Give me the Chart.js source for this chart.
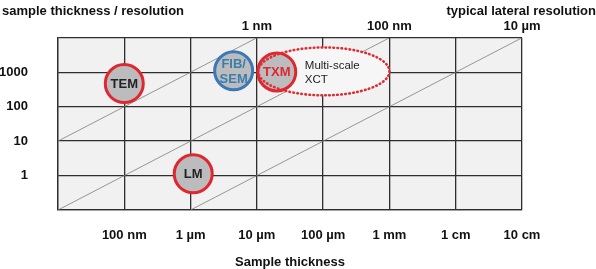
<!DOCTYPE html>
<html>
<head>
<meta charset="utf-8">
<script src="https://cdn.jsdelivr.net/npm/chart.js@4.4.0/dist/chart.umd.min.js"></script>
<style>
  html, body { margin: 0; padding: 0; background: #fff; }
  canvas { display: block; }
</style>
</head>
<body>
<canvas id="thicknessChart" width="596" height="269"></canvas>
<script>
// Sample thickness vs thickness/resolution ratio, both axes in log10 units
const thicknessExp = [-8, -7, -6, -5, -4, -3, -2, -1]; // log10 of metres
const thicknessLabels = ['', '100 nm', '1 µm', '10 µm', '100 µm', '1 mm', '1 cm', '10 cm'];
const ratioExp = [-1, 0, 1, 2, 3, 4];
const ratioLabels = ['', '1', '10', '100', '1000', ''];
const resolutionExp = [-5, -3, -1]; // where each constant-resolution line leaves the top
const resolutionLabels = ['1 nm', '100 nm', '10 µm'];

// constant-resolution diagonals (thickness exp, ratio exp)
const line1nm = [{ x: -8, y: 1 }, { x: -5, y: 4 }];
const line100nm = [{ x: -8, y: -1 }, { x: -3, y: 4 }];
const line10um = [{ x: -6, y: -1 }, { x: -1, y: 4 }];

const techniques = ['TEM', 'FIB/SEM', 'TXM', 'LM'];
const techThickness = [-7.0, -5.35, -4.7, -5.96];
const techRatio = [2.67, 3.04, 3.01, 0.05];
const techBorder = ['#e0262f', '#3b78b5', '#e0262f', '#e0262f'];
const techText = ['#222222', '#3a7fab', '#e0262f', '#222222'];

// Multi-scale XCT region
const xctThickness = [-4.98, -3.0];
const xctRatio = [2.33, 3.72];
const xctLabel = ['Multi-scale', 'XCT'];

const FONT = '"Liberation Sans", Arial, sans-serif';
const GRID = '#2e2e2e';

const plotBg = {
  id: 'plotBg',
  beforeDraw(chart) {
    const { ctx, chartArea: a } = chart;
    ctx.save();
    ctx.fillStyle = '#f1f1f1';
    ctx.fillRect(a.left, a.top, a.right - a.left, a.bottom - a.top);
    ctx.restore();
  }
};

function xctEllipse(chart) {
  const sx = chart.scales.x, sy = chart.scales.y;
  const x0 = sx.getPixelForValue(xctThickness[0]), x1 = sx.getPixelForValue(xctThickness[1]);
  const y0 = sy.getPixelForValue(xctRatio[0]), y1 = sy.getPixelForValue(xctRatio[1]);
  return { cx: (x0 + x1) / 2, cy: (y0 + y1) / 2, rx: Math.abs(x1 - x0) / 2, ry: Math.abs(y1 - y0) / 2 };
}

const xctRegion = {
  id: 'xctRegion',
  beforeDatasetDraw(chart, args) {
    if (args.meta.type !== 'bubble') return;
    const e = xctEllipse(chart);
    const ctx = chart.ctx;
    ctx.save();
    ctx.fillStyle = '#f6f6f6';
    ctx.beginPath();
    ctx.ellipse(e.cx, e.cy, e.rx, e.ry, 0, 0, Math.PI * 2);
    ctx.fill();
    ctx.restore();
  },
  afterDatasetsDraw(chart) {
    const e = xctEllipse(chart);
    const ctx = chart.ctx;
    ctx.save();
    ctx.strokeStyle = '#dc2e34';
    ctx.lineWidth = 2.6;
    ctx.lineCap = 'round';
    ctx.setLineDash([0.6, 3.4]);
    ctx.beginPath();
    ctx.ellipse(e.cx, e.cy, e.rx, e.ry, 0, 0, Math.PI * 2);
    ctx.stroke();
    ctx.setLineDash([]);
    ctx.fillStyle = '#222';
    ctx.font = '11.5px ' + FONT;
    ctx.textAlign = 'left';
    ctx.textBaseline = 'middle';
    ctx.fillText(xctLabel[0], e.cx - 19, e.cy - 6);
    ctx.fillText(xctLabel[1], e.cx - 19, e.cy + 8);
    ctx.restore();
  }
};

const bubbleLabels = {
  id: 'bubbleLabels',
  afterDatasetsDraw(chart) {
    const ctx = chart.ctx;
    const meta = chart.getDatasetMeta(0);
    ctx.save();
    ctx.font = 'bold 13px ' + FONT;
    ctx.textAlign = 'center';
    ctx.textBaseline = 'middle';
    meta.data.forEach((el, i) => {
      const lines = techniques[i].split(/(?<=\/)/);
      ctx.fillStyle = techText[i];
      lines.forEach((t, k) => {
        ctx.fillText(t, el.x, el.y + 1 + (k - (lines.length - 1) / 2) * 15);
      });
    });
    ctx.restore();
  }
};

const cornerTitles = {
  id: 'cornerTitles',
  afterDraw(chart) {
    const ctx = chart.ctx;
    ctx.save();
    ctx.font = 'bold 13px ' + FONT;
    ctx.fillStyle = '#111';
    ctx.textBaseline = 'middle';
    ctx.textAlign = 'left';
    ctx.fillText('sample thickness / resolution', 2, 11);
    ctx.textAlign = 'right';
    ctx.fillText('typical lateral resolution', chart.width, 11);
    ctx.restore();
  }
};

const tickFont = { family: FONT, size: 13, weight: 'bold' };
const diag = (data) => ({
  type: 'line', data, xAxisID: 'x', yAxisID: 'y',
  borderColor: '#7d7d7d', borderWidth: 0.8, pointRadius: 0, fill: false
});

new Chart(document.getElementById('thicknessChart'), {
  data: {
    datasets: [
      {
        type: 'bubble', xAxisID: 'x', yAxisID: 'y',
        data: techniques.map((t, i) => ({ x: techThickness[i], y: techRatio[i], r: 19 })),
        backgroundColor: '#bcbcbf',
        borderColor: techBorder,
        borderWidth: 3
      },
      diag(line1nm),
      diag(line100nm),
      diag(line10um)
    ]
  },
  options: {
    responsive: false,
    animation: false,
    events: [],
    layout: { padding: { top: 0, right: 74, bottom: 0, left: 0 } },
    plugins: { legend: { display: false }, tooltip: { enabled: false } },
    scales: {
      x: {
        type: 'linear', position: 'bottom', min: -8, max: -1,
        afterBuildTicks: s => { s.ticks = thicknessExp.map(v => ({ value: v })); },
        afterFit: s => { s.height = 59; },
        ticks: {
          callback: v => thicknessLabels[thicknessExp.indexOf(v)],
          font: tickFont, color: '#111', padding: 18, maxRotation: 0, autoSkip: false
        },
        grid: { color: GRID, lineWidth: 1.3, drawTicks: false },
        border: { color: GRID, width: 1.3 },
        title: { display: true, text: 'Sample thickness', font: tickFont, color: '#111', padding: { top: 0, bottom: -1 } }
      },
      x2: {
        type: 'linear', position: 'top', min: -8, max: -1,
        afterBuildTicks: s => { s.ticks = resolutionExp.map(v => ({ value: v })); },
        afterFit: s => { s.height = 33; },
        ticks: {
          callback: v => resolutionLabels[resolutionExp.indexOf(v)],
          font: tickFont, color: '#111', padding: 4, maxRotation: 0, autoSkip: false
        },
        grid: { display: false, drawTicks: false },
        border: { display: false }
      },
      y: {
        type: 'linear', position: 'left', min: -1, max: 4,
        afterBuildTicks: s => { s.ticks = ratioExp.map(v => ({ value: v })); },
        afterFit: s => { s.width = 58; },
        ticks: {
          callback: v => ratioLabels[ratioExp.indexOf(v)],
          font: tickFont, color: '#111', padding: 30
        },
        grid: { color: GRID, lineWidth: 1.3, drawTicks: false },
        border: { color: GRID, width: 1.3 }
      }
    }
  },
  plugins: [plotBg, xctRegion, bubbleLabels, cornerTitles]
});
</script>
</body>
</html>
